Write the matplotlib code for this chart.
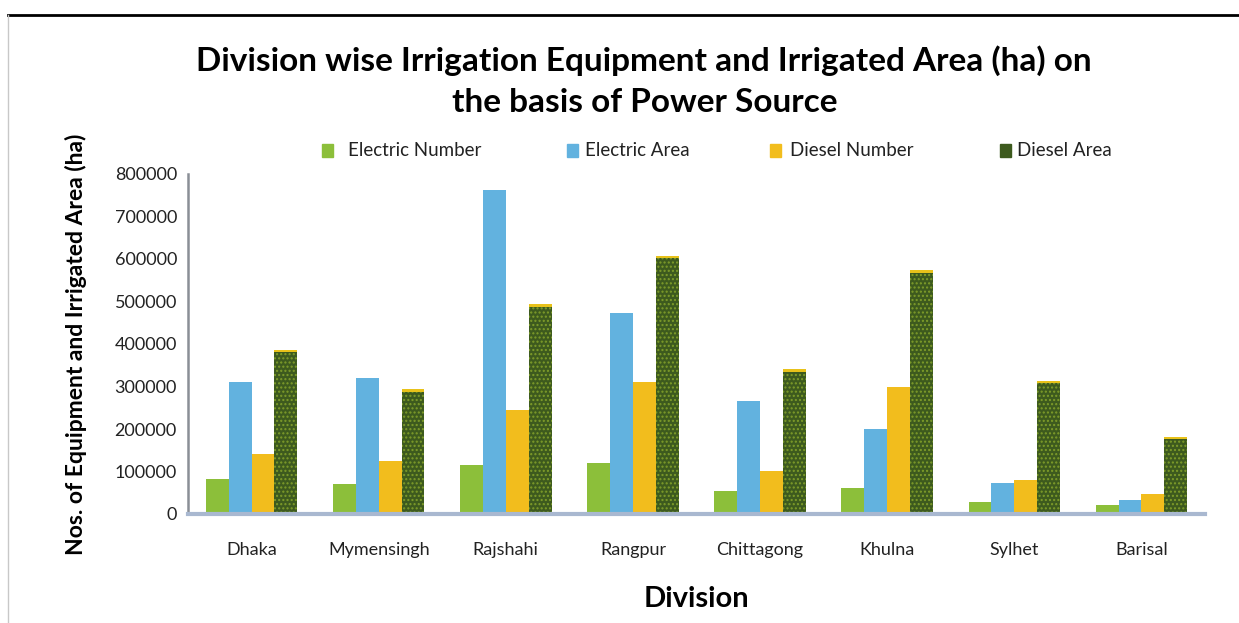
import matplotlib.pyplot as plt
import numpy as np
from matplotlib.lines import Line2D

# Dados
divisions = ['Dhaka', 'Mymensingh', 'Rajshahi', 'Rangpur', 'Chittagong',
             'Khulna', 'Sylhet', 'Barisal']
electric_number = [82000, 71000, 115000, 120000, 54000, 61000, 28000, 22000]
electric_area = [311000, 320000, 762000, 473000, 266000, 200000, 73000, 33000]
diesel_number = [141000, 125000, 245000, 310000, 101000, 299000, 80000, 47000]
diesel_area = [381000, 287000, 487000, 602000, 334000, 567000, 308000, 176000]

series_names = ['Electric Number', 'Electric Area', 'Diesel Number', 'Diesel Area']

FONTE = 'Lato'

fig = plt.figure(figsize=(12.39, 6.23), dpi=100)
ax = fig.add_axes([188 / 1239, 1 - 514 / 623, 1017 / 1239, 340 / 623])

x = np.arange(len(divisions))
w = 0.18

ax.bar(x - 1.5 * w, electric_number, w, color='#8CBF3A', linewidth=0)
ax.bar(x - 0.5 * w, electric_area, w, color='#62B2DF', linewidth=0)
ax.bar(x + 0.5 * w, diesel_number, w, color='#F2BD1D', linewidth=0)
ax.bar(x + 1.5 * w, diesel_area, w, color='#3D5A1E', edgecolor='#7E9C2A',
       hatch='....', linewidth=0)
# tampa amarela da barra Diesel Area
ax.bar(x + 1.5 * w, [6000] * len(divisions), w, bottom=diesel_area,
       color='#E8C21A', linewidth=0)

ax.set_xlim(-0.5, len(divisions) - 0.5)
ax.set_ylim(0, 800000)
ax.set_yticks(np.arange(0, 800001, 100000))
ax.set_yticklabels([str(v) for v in range(0, 800001, 100000)])
ax.set_xticks(x)
ax.set_xticklabels(divisions)
ax.tick_params(axis='both', length=0, labelsize=13, labelcolor='#222222')
ax.tick_params(axis='x', pad=20)
ax.tick_params(axis='y', pad=8)
for lbl in ax.get_xticklabels() + ax.get_yticklabels():
    lbl.set_family(FONTE)

for s in ['top', 'right']:
    ax.spines[s].set_visible(False)
ax.spines['left'].set_color('#8A8F96')
ax.spines['left'].set_linewidth(1.8)
ax.spines['bottom'].set_color('#A9B8D0')
ax.spines['bottom'].set_linewidth(3)

ax.set_xlabel('Division', fontsize=21, fontweight='bold', family=FONTE,
              labelpad=20)
ax.set_ylabel('Nos. of Equipment and Irrigated Area (ha)', fontsize=16.5,
              fontweight='bold', family=FONTE, labelpad=20)

fig.text(0.52, 1 - 81 / 623,
         'Division wise Irrigation Equipment and Irrigated Area (ha) on\nthe basis of Power Source',
         ha='center', va='center', fontsize=24, fontweight='bold',
         family=FONTE, linespacing=1.5)

# Legenda manual
leg_cores = ['#8CBF3A', '#62B2DF', '#F2BD1D', '#3D5A1E']
leg_x = [328, 573, 776, 1006]
leg_txt_x = [348, 585, 790, 1017]
for cor, xp, xt, nome in zip(leg_cores, leg_x, leg_txt_x, series_names):
    fig.patches.append(plt.Rectangle(((xp - 6) / 1239, 1 - 157 / 623),
                                     11 / 1239, 13 / 623, color=cor,
                                     transform=fig.transFigure))
    fig.text(xt / 1239, 1 - 151 / 623, nome, ha='left', va='center',
             fontsize=13.5, family=FONTE, color='#222222')

# bordas do scan
fig.add_artist(Line2D([8 / 1239, 1], [1 - 15 / 623, 1 - 15 / 623],
                      color='black', linewidth=2, transform=fig.transFigure))
fig.add_artist(Line2D([8 / 1239, 8 / 1239], [0, 1 - 15 / 623],
                      color='#C8C8C8', linewidth=1, transform=fig.transFigure))

fig.savefig('out.png', dpi=100, facecolor='white')
